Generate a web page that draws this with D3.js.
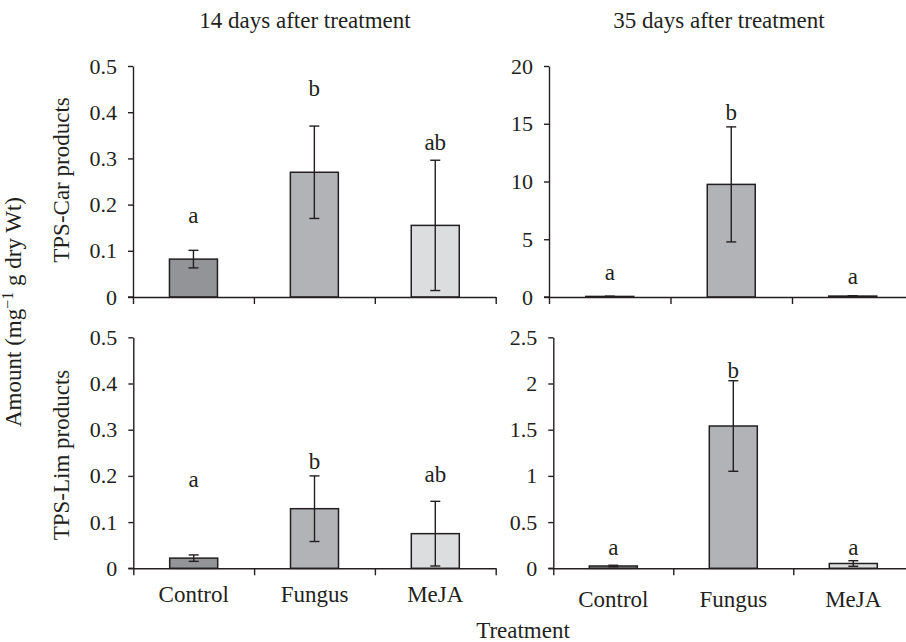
<!DOCTYPE html>
<html>
<head>
<meta charset="utf-8">
<script src="https://cdn.jsdelivr.net/npm/d3@7"></script>
<style>
  html, body { margin: 0; padding: 0; background: #fff; }
  svg { display: block; }
  svg text { font-family: "Liberation Serif", "Times New Roman", serif !important; fill: #231f20; }
</style>
</head>
<body>
<svg id="chart" width="906" height="642"></svg>
<script>
// ---------- data ----------
const categories = ["Control", "Fungus", "MeJA"];

const car14Values = [0.082, 0.27, 0.155];
const car14Errors = [0.019, 0.10, 0.141];
const car14Letters = ["a", "b", "ab"];
const car14LetterAt = [0.16, 0.435, 0.318];

const car35Values = [0.05, 9.75, 0.08];
const car35Errors = [0.02, 4.98, 0.03];
const car35Letters = ["a", "b", "a"];
const car35LetterAt = [1.45, 15.3, 1.16];

const lim14Values = [0.022, 0.129, 0.075];
const lim14Errors = [0.007, 0.071, 0.07];
const lim14Letters = ["a", "b", "ab"];
const lim14LetterAt = [0.177, 0.216, 0.187];

const lim35Values = [0.025, 1.54, 0.052];
const lim35Errors = [0.008, 0.49, 0.03];
const lim35Letters = ["a", "b", "a"];
const lim35LetterAt = [0.144, 2.056, 0.144];

const yTicks14 = [0, 0.1, 0.2, 0.3, 0.4, 0.5];
const yTicksCar35 = [0, 5, 10, 15, 20];
const yTicksLim35 = [0, 0.5, 1, 1.5, 2, 2.5];

const colTitles = ["14 days after treatment", "35 days after treatment"];
const rowTitles = ["TPS-Car products", "TPS-Lim products"];
const xTitle = "Treatment";

// ---------- styling ----------
const barColors = ["#939497", "#b2b3b6", "#dcdddf"];
const ink = "#231f20";
const serif = "'Liberation Serif', 'Times New Roman', serif";
const svg = d3.select("#chart");

const panels = [
  {vals: car14Values, errs: car14Errors, letters: car14Letters, letterAt: car14LetterAt, ticks: yTicks14,
   left: 133, right: 495.7, top: 66, bottom: 297, labels: false, labelOff: 0},
  {vals: car35Values, errs: car35Errors, letters: car35Letters, letterAt: car35LetterAt, ticks: yTicksCar35,
   left: 549, right: 913.5, top: 66, bottom: 297, labels: false, labelOff: 0},
  {vals: lim14Values, errs: lim14Errors, letters: lim14Letters, letterAt: lim14LetterAt, ticks: yTicks14,
   left: 133.3, right: 495.7, top: 337.3, bottom: 568.3, labels: true, labelOff: 33.5},
  {vals: lim35Values, errs: lim35Errors, letters: lim35Letters, letterAt: lim35LetterAt, ticks: yTicksLim35,
   left: 553.3, right: 913.3, top: 337.3, bottom: 568.3, labels: true, labelOff: 38.5}
];

const fmt = d3.format("~g");

panels.forEach(p => {
  const g = svg.append("g");
  const x = d3.scaleBand().domain(categories).range([p.left, p.right]).padding(0);
  const xb = d3.scaleLinear().domain([0, categories.length]).range([p.left, p.right]);
  const y = d3.scaleLinear().domain([0, d3.max(p.ticks)]).range([p.bottom, p.top]);
  const bw = 48;

  // y axis
  const ya = g.append("g").attr("transform", `translate(${p.left},0)`)
    .call(d3.axisLeft(y).tickValues(p.ticks).tickFormat(fmt).tickSize(5).tickPadding(11).tickSizeOuter(0));
  ya.attr("font-family", serif).attr("font-size", 22);
  ya.select(".domain").attr("stroke", ink).attr("stroke-width", 1.4);
  ya.selectAll(".tick line").attr("stroke", ink).attr("stroke-width", 1.4);
  ya.selectAll(".tick text").style("font-family", serif).style("font-size", "22px").attr("fill", ink);

  // bars
  g.selectAll("rect.bar").data(p.vals).join("rect")
    .attr("class", "bar")
    .attr("x", (d, i) => x(categories[i]) + x.bandwidth() / 2 - bw / 2)
    .attr("y", d => y(d))
    .attr("width", bw)
    .attr("height", d => y(0) - y(d))
    .attr("fill", (d, i) => barColors[i])
    .attr("stroke", ink).attr("stroke-width", 1.5);

  // error bars
  const cap = 5;
  p.vals.forEach((v, i) => {
    const cx = x(categories[i]) + x.bandwidth() / 2;
    const hi = y(v + p.errs[i]), lo = y(Math.max(0, v - p.errs[i]));
    const eg = g.append("g").attr("stroke", ink).attr("stroke-width", 1.4);
    eg.append("line").attr("x1", cx).attr("x2", cx).attr("y1", hi).attr("y2", lo);
    eg.append("line").attr("x1", cx - cap).attr("x2", cx + cap).attr("y1", hi).attr("y2", hi);
    eg.append("line").attr("x1", cx - cap).attr("x2", cx + cap).attr("y1", lo).attr("y2", lo);
  });

  // x axis with boundary ticks
  const xa = g.append("g").attr("transform", `translate(0,${p.bottom})`)
    .call(d3.axisBottom(xb).tickValues(d3.range(categories.length + 1)).tickFormat("").tickSize(7).tickSizeOuter(0));
  xa.select(".domain").attr("stroke", ink).attr("stroke-width", 1.4);
  xa.selectAll(".tick line").attr("stroke", ink).attr("stroke-width", 1.4);
  g.append("line").attr("x1", p.left - 5).attr("x2", p.left).attr("y1", p.bottom).attr("y2", p.bottom)
    .attr("stroke", ink).attr("stroke-width", 1.4);

  // significance letters
  g.selectAll("text.letter").data(p.letters).join("text")
    .attr("class", "letter")
    .attr("x", (d, i) => x(categories[i]) + x.bandwidth() / 2)
    .attr("y", (d, i) => y(p.letterAt[i]))
    .attr("text-anchor", "middle")
    .attr("font-size", 23)
    .text(d => d);

  // category labels
  if (p.labels) {
    g.selectAll("text.cat").data(categories).join("text")
      .attr("class", "cat")
      .attr("x", d => x(d) + x.bandwidth() / 2)
      .attr("y", p.bottom + p.labelOff)
      .attr("text-anchor", "middle")
      .attr("font-size", 23)
      .text(d => d);
  }
});

// column titles
svg.selectAll("text.coltitle").data(colTitles).join("text")
  .attr("class", "coltitle")
  .attr("x", (d, i) => [305, 719][i])
  .attr("y", 28)
  .attr("text-anchor", "middle")
  .attr("font-size", 23)
  .text(d => d);

// row titles
svg.selectAll("text.rowtitle").data(rowTitles).join("text")
  .attr("class", "rowtitle")
  .attr("transform", (d, i) => `translate(69,${[180, 455][i]}) rotate(-90)`)
  .attr("text-anchor", "middle")
  .attr("font-size", 23)
  .text(d => d);

// y title with superscript
const yt = svg.append("text")
  .attr("transform", "translate(21,312) rotate(-90)")
  .attr("text-anchor", "middle")
  .attr("font-size", 23);
yt.append("tspan").text("Amount (mg");
yt.append("tspan").attr("font-size", 16).attr("dy", -8).text("\u22121");
yt.append("tspan").attr("dy", 8).text(" g dry Wt)");

// x title
svg.append("text")
  .attr("x", 523).attr("y", 638)
  .attr("text-anchor", "middle")
  .attr("font-size", 23)
  .text(xTitle);
</script>
</body>
</html>
